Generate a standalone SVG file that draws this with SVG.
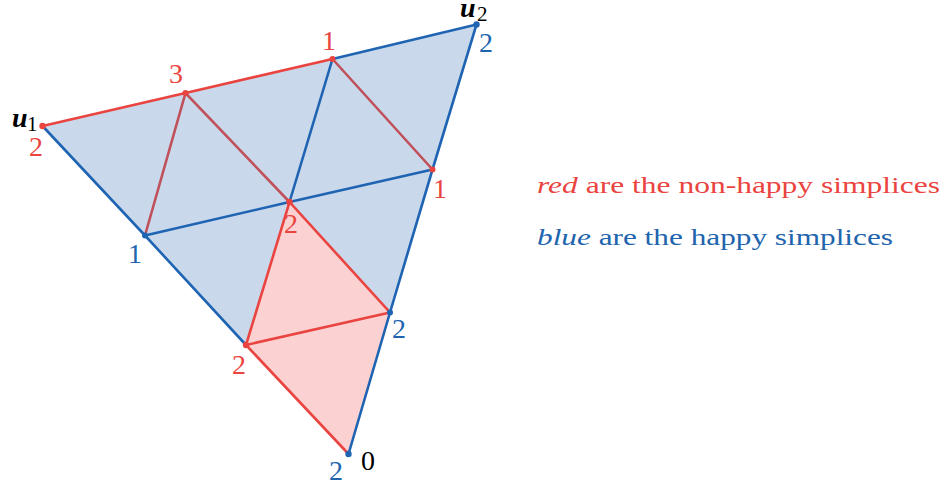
<svg xmlns="http://www.w3.org/2000/svg" width="946" height="486" viewBox="0 0 946 486" font-family="Liberation Serif, Times New Roman, serif">
<style>
.b{stroke:#1f64b2;stroke-width:2.6;fill:none;stroke-linecap:round}
.r{stroke:#ea4440;stroke-width:2.6;fill:none;stroke-linecap:round}
.d{stroke:#c0505a;stroke-width:2.6;fill:none;stroke-linecap:round}
.rd{fill:#ea4440}
.bd{fill:#1f64b2}
.n{font-size:28px}
.s{font-size:21px}
.u{font-size:28px;font-weight:bold;font-style:italic}
.lr{fill:#ea4440}
.lb{fill:#2164ae}
.k{fill:#000}
.leg{font-size:24px}
.it{font-style:italic}
</style>
<rect width="946" height="486" fill="#fff"/>
<g id="fills">
<polygon points="42.5,126 476.5,24.5 348.5,454" fill="#c9d9eb"/>
<polygon points="289.5,202 390,312.5 348.5,454 246,345" fill="#fbd1d1"/>
</g>
<g id="connectors">
<path class="b" d="M332.5,59 L476.5,24.5 L432.5,169.5 L390,312.5 L348.5,454"/>
<path class="b" d="M42.5,126 L145,235.5 L246,345"/>
<path class="b" d="M145,235.5 L289.5,202 L432.5,169.5"/>
<path class="b" d="M332.5,59 L289.5,202"/>
<path class="d" d="M145,235.5 L185.5,93 L289.5,202"/>
<path class="d" d="M332.5,59 L432.5,169.5"/>
<path class="r" d="M42.5,126 L185.5,93 L332.5,59"/>
<path class="r" d="M246,345 L289.5,202 L390,312.5 L246,345 L348.5,454"/>
</g>
<g id="nodes">
<g id="u1"><circle class="rd" cx="42.5" cy="126" r="3.2"/><text class="u k" x="12" y="127">u</text><text class="s k" x="27" y="131">1</text><text class="n lr" x="29" y="156">2</text></g>
<g id="p3"><circle class="rd" cx="185.5" cy="93" r="3"/><text class="n lr" x="169" y="83">3</text></g>
<g id="p1t"><circle class="rd" cx="332.5" cy="59" r="3"/><text class="n lr" x="322" y="50">1</text></g>
<g id="u2"><circle class="bd" cx="476.5" cy="24.5" r="3.2"/><text class="u k" x="460" y="17">u</text><text class="s k" x="477" y="21">2</text><text class="n lb" x="479" y="52">2</text></g>
<g id="r1"><circle class="rd" cx="432.5" cy="169.5" r="3"/><text class="n lr" x="433" y="198">1</text></g>
<g id="c"><circle class="rd" cx="289.5" cy="202" r="3.2"/><text class="n lr" x="284" y="233">2</text></g>
<g id="l1"><circle class="bd" cx="145" cy="235.5" r="3"/><text class="n lb" x="128" y="263">1</text></g>
<g id="r2"><circle class="bd" cx="390" cy="312.5" r="3"/><text class="n lb" x="392" y="338">2</text></g>
<g id="l2"><circle class="rd" cx="246" cy="345" r="3.2"/><text class="n lr" x="232" y="374">2</text></g>
<g id="o"><circle class="bd" cx="348.5" cy="454" r="3.2"/><text class="n lb" x="329" y="480">2</text><text class="n k" x="361" y="470">0</text></g>
</g>
<g id="legend">
<text class="leg lr" x="537" y="193" textLength="403" lengthAdjust="spacingAndGlyphs"><tspan class="it">red</tspan> are the non-happy simplices</text>
<text class="leg lb" x="537" y="245" textLength="356" lengthAdjust="spacingAndGlyphs"><tspan class="it">blue</tspan> are the happy simplices</text>
</g>
</svg>
